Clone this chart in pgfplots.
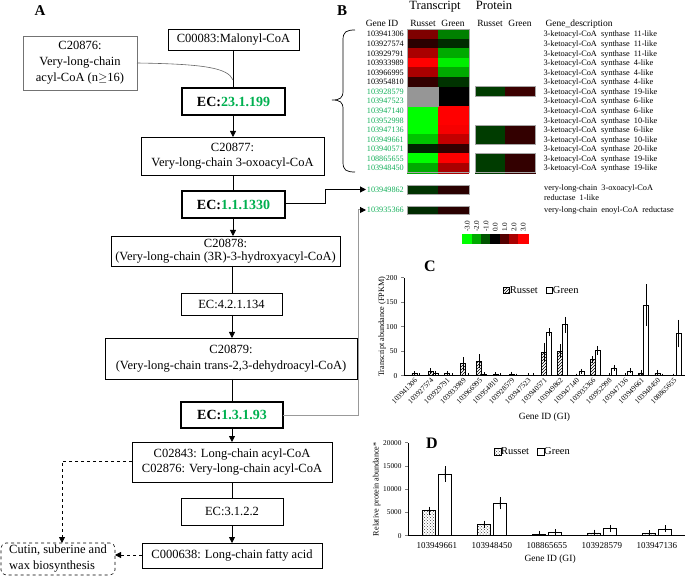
\documentclass[border=0pt]{standalone}
\usepackage{pgfplots}
\usepackage{pgfplotstable}
\pgfplotsset{compat=1.18}
\usepackage{fontspec}
\setmainfont{Liberation Serif}
\usetikzlibrary{arrows.meta,patterns}
\definecolor{ecgreen}{RGB}{0,176,80}
\definecolor{idgreen}{RGB}{20,175,90}
\definecolor{nancol}{RGB}{150,150,150}
\newcommand{\fs}[2]{\fontsize{#1}{#2}\selectfont}

% ---------- heat map data (pixel coordinates of cell centres, value) ----------
\pgfplotstableread{
x y v
422.5 34.08 1.5
453.2 34.08 -1.5
422.5 43.64 0.5
453.2 43.64 -0.5
422.5 53.20 2.0
453.2 53.20 -2.0
422.5 62.76 3.0
453.2 62.76 -2.8
422.5 72.32 2.0
453.2 72.32 -2.0
422.5 81.88 0.6
453.2 81.88 -0.6
453.2 91.44 0.0
453.2 101.00 0.0
422.5 110.56 -3.0
453.2 110.56 3.0
422.5 120.12 -3.0
453.2 120.12 3.0
422.5 129.68 -3.0
453.2 129.68 2.9
422.5 139.24 -2.3
453.2 139.24 2.3
422.5 148.80 -0.4
453.2 148.80 0.6
422.5 158.36 -3.0
453.2 158.36 3.0
422.5 167.92 -2.0
453.2 167.92 2.0
}\heatT
\pgfplotstableread{
x y v
422.5 189.85 -0.6
453.2 189.85 0.5
422.5 210.0 -0.5
453.2 210.0 0.5
}\heatE
\pgfplotstableread{
x y v
490 91.44 -0.7
520 91.44 0.7
490 129.68 -0.7
520 129.68 0.6
490 139.24 -0.7
520 139.24 0.6
490 158.36 -0.7
520 158.36 0.6
490 167.92 -0.7
520 167.92 0.6
}\heatP
\pgfplotstableread{
x y v
467.0 238.4 -3
476.3 238.4 -2
485.7 238.4 -1
495.0 238.4 0
504.4 238.4 1
513.7 238.4 2
523.0 238.4 3
}\cbar

% ---------- panel C ----------
\pgfplotstableread{
x r re g ge
0 4 0.5 1 0.3
1 9 2 5 1
2 5 1 0.5 0.2
3 25 9 1 0.3
4 30 10 2 0.5
5 2 0.5 1 0.3
6 3 1 0 0
7 0.5 0.2 0.5 0.2
8 48 15 89 4
9 50 10 104 12
10 0 0 9 1
11 33 3 52 5
12 0.5 0.2 16 2
13 0.5 0.2 10 1
14 6 2 144 39
15 5 3 0 0
16 0 0 86 24
}\dataC
% ---------- panel D ----------
\pgfplotstableread{
x r re g ge
0 5400 200 13300 1000
1 2450 150 6950 650
2 350 50 730 60
3 600 60 1600 80
4 520 60 1480 80
}\dataD

\begin{document}
\begin{tikzpicture}

% ===================== overlay axis in pixel coordinates: heat map =====================
\begin{axis}[at={(0pt,0pt)}, anchor=south west, scale only axis, width=685pt, height=576pt,
  xmin=0, xmax=685, ymin=0, ymax=576, y dir=reverse, hide axis, clip=false,
  colormap={gbr}{rgb255=(0,255,0) rgb255=(0,0,0) rgb255=(255,0,0)},
  point meta min=-3, point meta max=3]
\addplot[scatter, only marks, mark=square*, mark size=4.78pt, point meta=explicit,
  scatter/use mapped color={draw=mapped color, fill=mapped color},
  mark options={xscale=3.21, line width=0.3pt}] table[x=x, y=y, meta=v] {\heatT};
\addplot[only marks, mark=square*, mark size=4.78pt,
  mark options={xscale=3.21, fill=nancol, draw=nancol, line width=0.3pt}]
  coordinates {(422.5,91.44) (422.5,101.0)};
\addplot[scatter, only marks, mark=square*, mark size=4.15pt, point meta=explicit,
  scatter/use mapped color={draw=mapped color, fill=mapped color},
  mark options={xscale=3.70, line width=0.3pt}] table[x=x, y=y, meta=v] {\heatE};
\addplot[scatter, only marks, mark=square*, mark size=4.78pt, point meta=explicit,
  scatter/use mapped color={draw=mapped color, fill=mapped color},
  mark options={xscale=3.14, line width=0.3pt}] table[x=x, y=y, meta=v] {\heatP};
\addplot[scatter, only marks, mark=square*, mark size=4.35pt, point meta=explicit,
  scatter/use mapped color={draw=mapped color, fill=mapped color},
  mark options={xscale=1.07, line width=0.3pt}] table[x=x, y=y, meta=v] {\cbar};
\end{axis}

% ===================== panel C =====================
\begin{axis}[at={(404pt,200.3pt)}, anchor=south west, scale only axis, width=281pt, height=98pt,
  ybar=0pt, bar width=5pt, xmin=-0.8, xmax=16.55, ymin=0, ymax=200,
  ytick={0,50,100,150,200}, axis lines=left, axis line style={-, line width=0.6pt},
  xtick={0,...,16},
  xticklabels={103941306,103927574,103929791,103933989,103966995,103954810,103928579,103947523,103940571,103949862,103947140,103935366,103952998,103947136,103949661,103948450,108865655},
  xtick style={draw=none}, ytick style={line width=0.5pt}, major tick length=3pt, tick align=outside,
  xticklabel style={rotate=45, anchor=east, inner sep=1pt, font=\fs{7.3}{8}},
  yticklabel style={font=\fs{7.5}{9}}, /pgf/number format/assume math mode=true,
  xlabel={Gene ID (GI)}, xlabel style={at={(axis description cs:0.5,-0.42)}, anchor=center, font=\fs{9.5}{11}},
  ylabel={Transcript abundance (FPKM)}, ylabel style={at={(axis description cs:-0.078,0.5)}, anchor=center, font=\fs{8.2}{10}},
  legend style={at={(0.49,0.87)}, anchor=center, draw=none, fill=none, legend columns=2,
    font=\fs{10.5}{12}, /tikz/every even column/.append style={column sep=6pt},
    /tikz/every odd column/.append style={column sep=-2pt}},
  error bars/error bar style={line width=0.5pt, black},
  error bars/error mark options={mark size=2pt, line width=0.5pt, black}]
\addplot[draw=black, line width=0.5pt, pattern=north east lines,
  legend image code/.code={\draw[draw=black, line width=0.5pt, pattern=north east lines] (0pt,-3.3pt) rectangle (6.6pt,3.3pt);},
  error bars/.cd, y dir=both, y explicit] table[x=x, y=r, y error=re] {\dataC};
\addplot[draw=black, line width=0.5pt, fill=white,
  legend image code/.code={\draw[draw=black, line width=0.5pt, fill=white] (0pt,-3.3pt) rectangle (6.6pt,3.3pt);},
  error bars/.cd, y dir=both, y explicit] table[x=x, y=g, y error=ge] {\dataC};
\legend{Russet, Green}
\end{axis}

% ===================== panel D =====================
\begin{axis}[at={(408pt,40.3pt)}, anchor=south west, scale only axis, width=277pt, height=93pt,
  ybar=3.5pt, bar width=12.5pt, xmin=-0.527, xmax=4.51, ymin=0, ymax=20000,
  ytick={0,5000,10000,15000,20000}, scaled y ticks=false, /pgf/number format/1000 sep={},
  axis lines=left, axis line style={-, line width=0.6pt},
  xtick={0,...,4}, xticklabels={103949661,103948450,108865655,103928579,103947136},
  xtick style={draw=none}, ytick style={line width=0.5pt}, major tick length=3pt, tick align=outside,
  xticklabel style={font=\fs{9}{10}},
  yticklabel style={font=\fs{7.3}{9}}, /pgf/number format/assume math mode=true,
  xlabel={Gene ID (GI)}, xlabel style={at={(axis description cs:0.513,-0.25)}, anchor=center, font=\fs{9.5}{11}},
  ylabel={Relative protein abundance*}, ylabel style={at={(axis description cs:-0.113,0.5)}, anchor=center, font=\fs{8.2}{10}},
  legend style={at={(0.451,0.903)}, anchor=center, draw=none, fill=none, legend columns=2,
    font=\fs{10.5}{12}, /tikz/every even column/.append style={column sep=6pt},
    /tikz/every odd column/.append style={column sep=-2pt}},
  error bars/error bar style={line width=0.5pt, black},
  error bars/error mark options={mark size=3pt, line width=0.5pt, black}]
\addplot[draw=black, line width=0.5pt, pattern=crosshatch dots, pattern color=black!75,
  legend image code/.code={\draw[draw=black, line width=0.5pt, pattern=crosshatch dots, pattern color=black!75] (0pt,-3.3pt) rectangle (6.6pt,3.3pt);},
  error bars/.cd, y dir=both, y explicit] table[x=x, y=r, y error=re] {\dataD};
\addplot[draw=black, line width=0.5pt, fill=white,
  legend image code/.code={\draw[draw=black, line width=0.5pt, fill=white] (0pt,-3.3pt) rectangle (6.6pt,3.3pt);},
  error bars/.cd, y dir=both, y explicit] table[x=x, y=g, y error=ge] {\dataD};
\legend{Russet, Green}
\end{axis}

% ===================== drawing in pixel coordinates (y down) =====================
\begin{scope}[x=1pt, y=-1pt, yshift=576pt,
  box/.style={draw, line width=0.6pt, inner sep=0pt, align=center, font=\fs{12.5}{15.5}},
  ecbox/.style={draw, line width=2pt, inner sep=0pt, font=\bfseries\fs{14}{16}},
  arr/.style={-{Triangle[length=6pt,width=6pt]}, line width=0.8pt},
  ln/.style={line width=0.8pt}]
% panel labels
\node[font=\bfseries\fs{15}{16}] at (40,11) {A};
\node[font=\bfseries\fs{15}{16}] at (342,11) {B};
\node[font=\bfseries\fs{16}{17}] at (430,266) {C};
\node[font=\bfseries\fs{16}{17}] at (432,443) {D};
% flowchart boxes
\node[box, minimum width=131pt, minimum height=21pt] at (233.5,39.5) {C00083:Malonyl-CoA};
\node[box, draw=black!55, minimum width=114pt, minimum height=54pt, font=\fs{12.5}{16}] at (80,63) {C20876:\\Very-long-chain\\acyl-CoA (n$\geq$16)};
\node[ecbox, minimum width=103pt, minimum height=27pt] at (233.5,101.5) {EC:\textcolor{ecgreen}{23.1.199}};
\node[box, minimum width=183pt, minimum height=38pt, font=\fs{12.5}{15}] at (232.5,156) {C20877:\\Very-long-chain 3-oxoacyl-CoA};
\node[ecbox, minimum width=103pt, minimum height=27pt] at (233.5,204.5) {EC:\textcolor{ecgreen}{1.1.1330}};
\node[box, minimum width=229pt, minimum height=30pt, font=\fs{12.5}{12.5}] at (225.5,251) {C20878:\\(Very-long-chain (3R)-3-hydroxyacyl-CoA)};
\node[box, minimum width=101pt, minimum height=22pt] at (231.5,304) {EC:4.2.1.134};
\node[box, minimum width=252pt, minimum height=41pt, font=\fs{12.5}{16.5}] at (231,358.5) {C20879:\\(Very-long-chain trans-2,3-dehydroacyl-CoA)};
\node[ecbox, minimum width=102pt, minimum height=26pt] at (232,415) {EC:\textcolor{ecgreen}{1.3.1.93}};
\node[box, minimum width=200pt, minimum height=40pt, font=\fs{12.5}{15.3}] at (232,462) {C02843: Long-chain acyl-CoA\\C02876: Very-long-chain acyl-CoA};
\node[box, minimum width=102pt, minimum height=27pt] at (232,511.5) {EC:3.1.2.2};
\node[box, minimum width=180pt, minimum height=25pt] at (232,555.5) {C000638: Long-chain fatty acid};
\node[box, dashed, rounded corners=5pt, align=left, minimum width=114pt, minimum height=32pt, font=\fs{12.5}{16}] at (58,559) {Cutin, suberine and\\wax biosynthesis};
% flowchart connectors
\draw[ln] (233,50) -- (233,88);
\draw[line width=0.6pt, black!60] (137,63) .. controls (205,64) and (228,68) .. (233,80);
\draw[arr] (233,115) -- (233,137);
\draw[ln] (233,175) -- (233,191);
\draw[arr] (233,218) -- (233,236);
\draw[ln] (232.5,266) -- (232.5,293);
\draw[arr] (232,315) -- (232,338);
\draw[ln] (232,379) -- (232,402);
\draw[arr] (232,428) -- (232,442);
\draw[ln] (232,482) -- (232,498);
\draw[arr] (232,525) -- (232,543);
\draw[arr, dashed] (132,461) -- (62,461) -- (62,543);
\draw[arr, dashed] (142,555) -- (115,555);
\draw[arr, line width=1pt] (285,204) -- (325,204) -- (325,189.5) -- (366,189.5);
\draw[line width=1pt, black!40, -{Triangle[length=6pt,width=6pt,color=black]}] (283,415) -- (358,415) -- (358,210) -- (366,210);
% brace
\draw[line width=0.7pt] (355,30) .. controls (346,30) and (343,32) .. (343,40) -- (343,91)
  .. controls (343,98) and (340,100) .. (332,100) .. controls (340,100) and (343,102) .. (343,109)
  -- (343,162) .. controls (343,170) and (346,172) .. (355,172);
% heat map headings
\node[anchor=base, font=\fs{12.6}{14}] at (435,9.5) {Transcript};
\node[anchor=base, font=\fs{12.6}{14}] at (494,9.5) {Protein};
\begin{scope}[every node/.style={anchor=base, font=\fs{9.5}{11}}]
\node at (382,27) {Gene ID};
\node at (423,27) {Russet};
\node at (453,27) {Green};
\node at (490,27) {Russet};
\node at (520,27) {Green};
\node[anchor=base west] at (542,27) {Gene\_description};
\end{scope}
% cell frames
\draw[black!35, line width=0.4pt] (407.3,29.3) rectangle (468.7,172.7);
\draw[black!35, line width=0.4pt] (475,86.7) rectangle (535,96.2);
\draw[black!35, line width=0.4pt] (475,124.9) rectangle (535,144.0);
\draw[black!35, line width=0.4pt] (475,153.6) rectangle (535,172.7);
\draw[black!35, line width=0.4pt] (407.3,185.7) rectangle (468.7,194.0);
\draw[black!35, line width=0.4pt] (407.3,206.0) rectangle (468.7,214.0);
% gene ids and descriptions
\begin{scope}[every node/.style={anchor=base west, font=\fs{8.2}{9}, inner sep=0pt}]
\foreach \y/\id/\c/\d in {34.08/103941306/black/11,43.64/103927574/black/11,53.20/103929791/black/11,
  62.76/103933989/black/4,72.32/103966995/black/4,81.88/103954810/black/4,
  91.44/103928579/idgreen/19,101.00/103947523/idgreen/6,110.56/103947140/idgreen/6,
  120.12/103952998/idgreen/10,129.68/103947136/idgreen/6,139.24/103949661/idgreen/10,
  148.80/103940571/idgreen/20,158.36/108865655/idgreen/19,167.92/103948450/idgreen/19}{
  \node[text=\c] at (366.7,\y+2.9) {\id};
  \node[font=\fs{8.3}{9}] at (543.3,\y+2.9) {3-ketoacyl-CoA\ \ synthase\ \ \d-like};
}
\node[text=idgreen] at (366.7,192.7) {103949862};
\node[text=idgreen] at (366.7,212.9) {103935366};
\node[font=\fs{8.3}{9}] at (544,190.5) {very-long-chain\ \ 3-oxoacyl-CoA};
\node[font=\fs{8.3}{9}] at (544,200.5) {reductase\ \ 1-like};
\node[font=\fs{8.3}{9}] at (544,212.9) {very-long-chain\ \ enoyl-CoA\ \ reductase};
\end{scope}
% colour bar labels
\foreach \x/\t in {467.0/-3.0,476.3/-2.0,485.7/-1.0,495.0/0.0,504.4/1.0,513.7/2.0,523.0/3.0}{
  \node[rotate=90, anchor=west, inner sep=0pt, font=\fs{7.2}{8}] at (\x+0.3,232) {\t};
}
\end{scope}

\pgfresetboundingbox
\path[use as bounding box] (0pt,0pt) rectangle (685pt,576pt);
\end{tikzpicture}
\end{document}
